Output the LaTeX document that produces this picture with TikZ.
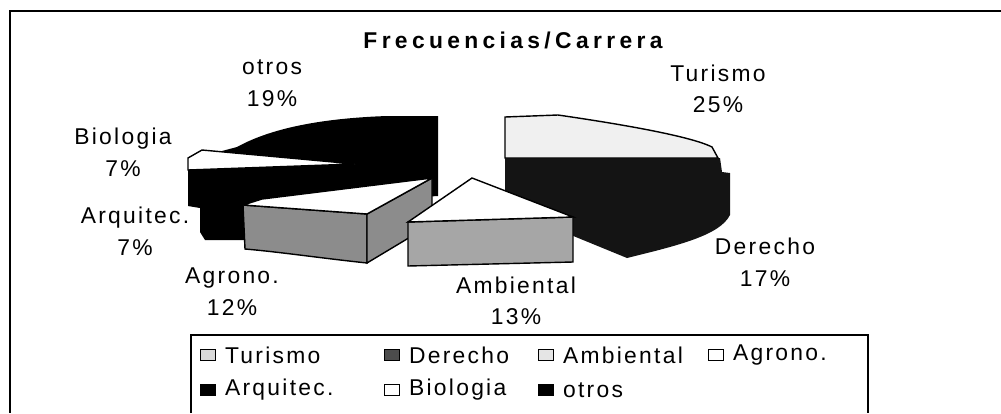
\documentclass[tikz,border=0pt]{standalone}
\usepackage{fontspec}
\setmainfont{Liberation Sans}
\newfontfamily\chartfont{Liberation Sans}[LetterSpace=10]
\newfontfamily\titlefont{Liberation Sans Bold}[LetterSpace=19]
\usetikzlibrary{positioning}
\tikzset{
	lbl/.style={align=center, inner sep=0pt, font=\chartfont\fontsize{13}{18}\selectfont},
	keybox/.style={draw, line width=0.8pt, minimum width=0.29cm, minimum height=0.21cm, inner sep=0pt},
	keytext/.style={inner sep=0pt, font=\chartfont\fontsize{13}{15}\selectfont},
	edge/.style={line width=0.8pt}
}
\begin{document}
\begin{tikzpicture}[x=0.02cm, y=-0.02cm]
	\useasboundingbox (0,0) rectangle (1001,413);
	\draw[line width=1.3pt] (1001,11) -- (10,11) -- (10,413);
	\draw[line width=0.6pt] (191,413) -- (191,335) -- (868,335) -- (868,413);

	\node[font=\titlefont\fontsize{13}{15}\selectfont, inner sep=0pt] (title) at (513,40) {Frecuencias/Carrera};

	\fill[black] (237,147) .. controls (275,126) and (330,118) .. (387,116) -- (438,116) -- (438,196) -- (245,208) -- (245,240) -- (205,240) -- (200,232) -- (200,208) -- (188,206) -- (188,160) -- cycle;
	\filldraw[fill=white, edge] (188,158) -- (202,150) -- (355,164) -- (188,170) -- cycle;

	\filldraw[fill=black!45, edge] (243,205) -- (367,214) -- (367,263) .. controls (320,258) and (280,252) .. (245,249) -- cycle;
	\filldraw[fill=black!45, edge] (367,214) -- (432,178) -- (432,224) -- (367,263) -- cycle;
	\filldraw[fill=white, edge] (243,205) -- (262,199) -- (432,178) -- (367,214) -- cycle;

	\fill[black!92] (505,158) -- (720,158) -- (722,172) -- (730,173) -- (730,215) .. controls (720,235) and (680,245) .. (627,258) -- (505,208) -- cycle;
	\filldraw[fill=black!6, edge] (505,158) -- (505,117) -- (558,115) .. controls (620,124) and (690,136) .. (712,147) -- (718,158) -- cycle;

	\filldraw[fill=black!35, edge] (408,222) -- (573,217) -- (573,262) -- (408,266) -- cycle;
	\filldraw[fill=white, edge] (408,222) -- (472,178) -- (573,217) -- cycle;

	\node[lbl] (lOtr) at (272,83) {otros\\19\%};
	\node[lbl] (lBio) at (123,152) {Biologia\\7\%};
	\node[lbl] (lTur) at (718,89) {Turismo\\25\%};
	\node[lbl] (lArq) at (135,231) {Arquitec.\\7\%};
	\node[lbl] (lAgr) at (232,292) {Agrono.\\12\%};
	\node[lbl] (lAmb) at (516,301) {Ambiental\\13\%};
	\node[lbl] (lDer) at (765,262) {Derecho\\17\%};

	\node[keybox, fill=black!15] (kTur) at (208,355) {};
	\node[keytext, right=5pt of kTur] (tTur) {Turismo};
	\node[keybox, fill=black!70] (kDer) at (392,355) {};
	\node[keytext, right=5pt of kDer] (tDer) {Derecho};
	\node[keybox, fill=black!10] (kAmb) at (546,355) {};
	\node[keytext, right=5pt of kAmb] (tAmb) {Ambiental};
	\node[keybox, fill=white] (kAgr) at (716,355) {};
	\node[keytext, right=5pt of kAgr] (tAgr) {Agrono.};
	\node[keybox, fill=black] (kArq) at (208,390) {};
	\node[keytext, right=5pt of kArq] (tArq) {Arquitec.};
	\node[keybox, fill=white] (kBio) at (392,390) {};
	\node[keytext, right=5pt of kBio] (tBio) {Biologia};
	\node[keybox, fill=black] (kOtr) at (546,390) {};
	\node[keytext, right=5pt of kOtr] (tOtr) {otros};
\end{tikzpicture}
\end{document}
